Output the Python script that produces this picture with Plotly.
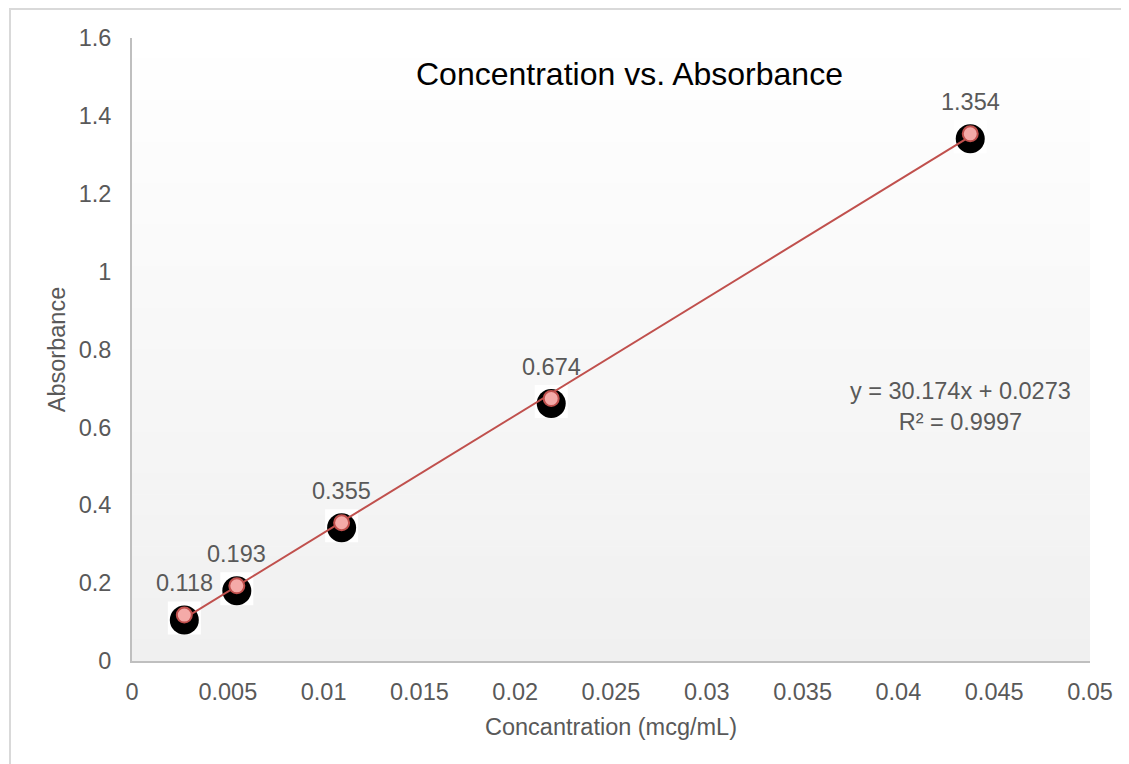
import plotly.graph_objects as go

# ---- data ----
concentration = [0.00273, 0.00547, 0.01094, 0.02188, 0.04375]
absorbance = [0.118, 0.193, 0.355, 0.674, 1.354]
point_labels = ["0.118", "0.193", "0.355", "0.674", "1.354"]
slope = 30.174
intercept = 0.0273
r_squared = 0.9997
x_ticks = [0, 0.005, 0.01, 0.015, 0.02, 0.025, 0.03, 0.035, 0.04, 0.045, 0.05]
x_tick_labels = ["0", "0.005", "0.01", "0.015", "0.02", "0.025", "0.03", "0.035", "0.04", "0.045", "0.05"]
y_ticks = [0, 0.2, 0.4, 0.6, 0.8, 1.0, 1.2, 1.4, 1.6]
y_tick_labels = ["0", "0.2", "0.4", "0.6", "0.8", "1", "1.2", "1.4", "1.6"]

# page body has an 8px margin; lay the figure out in screen coordinates
OFF = 8
W, H = 1129 - OFF, 764 - OFF
PL, PR, PT, PB = 132, 1090, 38, 661          # plot area in screen px
L, T = PL - OFF, PT - OFF
R = W - (PR - OFF)
B = H - (PB - OFF)
plot_w = PR - PL
plot_h = PB - PT
y_range = [0, 1.6]
px_per_unit = plot_h / (y_range[1] - y_range[0])


def px(sx):
    return (sx - PL) / plot_w


def py(sy):
    return (PB - sy) / plot_h


GRAY = "#595959"
FONT = "Liberation Sans, Arial, sans-serif"
FS = 23.5

fig = go.Figure()

# pixel offsets converted to data units for the shadow-like black markers
off_sq = 3 / px_per_unit
off_blk = 5 / px_per_unit

fig.add_trace(go.Scatter(
    x=concentration, y=[v - off_sq for v in absorbance], mode="markers",
    marker=dict(symbol="square", size=33, color="white", line=dict(width=0)),
    hoverinfo="skip", showlegend=False))
fig.add_trace(go.Scatter(
    x=concentration, y=[v - off_blk for v in absorbance], mode="markers",
    marker=dict(symbol="circle", size=29, color="black", line=dict(width=0)),
    hoverinfo="skip", showlegend=False))

# trendline
x_fit = [concentration[0], concentration[-1]]
y_fit = [slope * x + intercept for x in x_fit]
fig.add_trace(go.Scatter(
    x=x_fit, y=y_fit, mode="lines",
    line=dict(color="#c0504d", width=2), showlegend=False, hoverinfo="skip"))

# red data markers
fig.add_trace(go.Scatter(
    x=concentration, y=absorbance, mode="markers",
    marker=dict(symbol="circle", size=15, color="#f4aaa8",
                line=dict(color="#c0504d", width=2)),
    showlegend=False))

# data labels
for x, y, t in zip(concentration, absorbance, point_labels):
    fig.add_annotation(x=x, y=y, text=t, showarrow=False, yshift=32,
                       xanchor="center", yanchor="middle",
                       font=dict(size=FS, color=GRAY, family=FONT))

# equation
fig.add_annotation(xref="paper", yref="paper", x=px(960), y=py(406),
                   xanchor="center", yanchor="middle",
                   text=f"y = {slope}x + {intercept}<br>R² = {r_squared}",
                   showarrow=False, align="center",
                   font=dict(size=FS, color=GRAY, family=FONT))

# title
fig.add_annotation(xref="paper", yref="paper", x=px(629), y=py(74),
                   xanchor="center", yanchor="middle",
                   text="Concentration vs. Absorbance",
                   showarrow=False, font=dict(size=32, color="black", family=FONT))

# gradient background (plot area)
n = 60
for i in range(n):
    f = i / (n - 1)
    c = int(round(255 - (255 - 240) * f))
    fig.add_shape(type="rect", xref="paper", yref="paper", layer="below",
                  x0=0, x1=1, y0=1 - (i + 1) / n, y1=1 - i / n + 0.001,
                  fillcolor=f"rgb({c},{c},{c})", line=dict(width=0))

# outer border
fig.add_shape(type="rect", xref="paper", yref="paper", layer="below",
              x0=px(10), x1=px(1145), y0=py(785), y1=py(9),
              line=dict(color="#d9d9d9", width=2), fillcolor="rgba(0,0,0,0)")

fig.update_layout(
    width=W, height=H,
    margin=dict(l=L, r=R, t=T, b=B, pad=0),
    paper_bgcolor="white", plot_bgcolor="rgba(0,0,0,0)",
    font=dict(family=FONT, color=GRAY, size=FS),
    xaxis=dict(range=[0, 0.05], tickvals=x_ticks, ticktext=x_tick_labels,
               showgrid=False, zeroline=False, showline=True,
               linecolor="#bfbfbf", linewidth=2,
               ticks="outside", ticklen=9, tickcolor="rgba(0,0,0,0)",
               tickfont=dict(size=FS, color=GRAY),
               title=dict(text="Concantration (mcg/mL)", standoff=14,
                          font=dict(size=FS, color=GRAY))),
    yaxis=dict(range=y_range, tickvals=y_ticks, ticktext=y_tick_labels,
               showgrid=False, zeroline=False, showline=True,
               linecolor="#bfbfbf", linewidth=2,
               ticks="outside", ticklen=14, tickcolor="rgba(0,0,0,0)",
               tickfont=dict(size=FS, color=GRAY),
               title=dict(text="Absorbance", standoff=6,
                          font=dict(size=FS, color=GRAY))),
    showlegend=False,
)

fig.write_html("out.html")
